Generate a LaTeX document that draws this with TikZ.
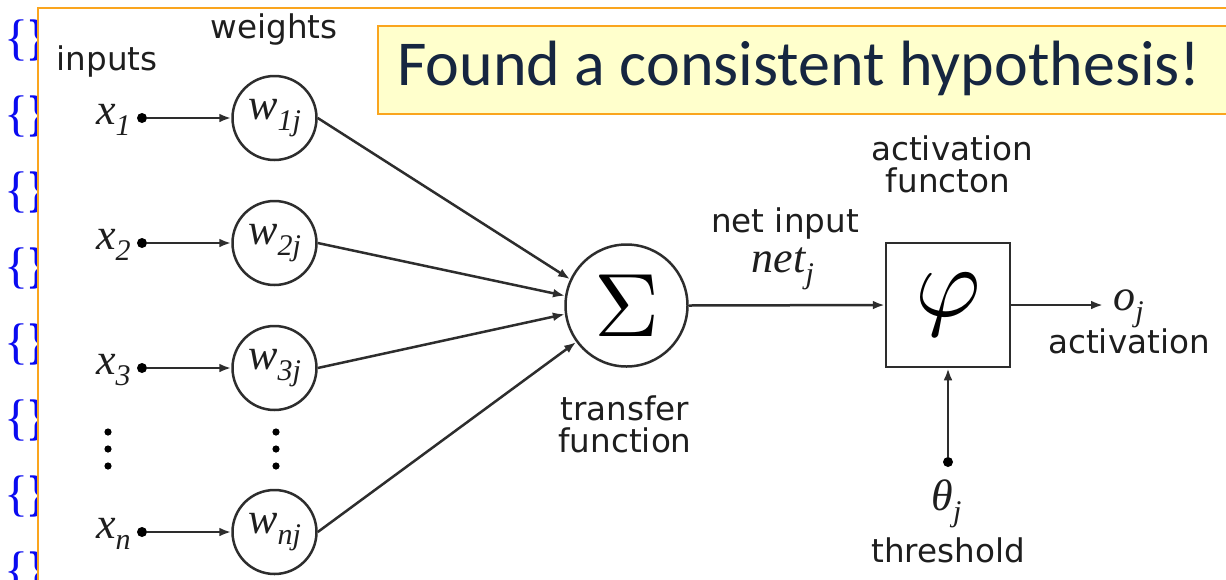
\documentclass[tikz,border=0pt]{standalone}
\usepackage{fontspec}
\setmainfont{DejaVu Sans}
\newfontfamily\calib{Carlito}
\newfontfamily\tim{Liberation Serif}
\usetikzlibrary{arrows.meta}
\definecolor{linec}{RGB}{45,45,45}
\definecolor{txt}{RGB}{30,30,30}
\definecolor{frameor}{RGB}{250,165,30}
\definecolor{notefill}{RGB}{255,255,204}
\definecolor{notetxt}{RGB}{22,38,64}
\definecolor{codeblue}{RGB}{10,10,240}
\newcommand\isub[1]{\raisebox{-0.55ex}{\fontsize{15pt}{15pt}\selectfont #1}}
\begin{document}
\begin{tikzpicture}[x=0.5pt,y=-0.5pt,
  wire/.style={draw=linec, line width=1.25pt},
  arr/.style={wire, -{Latex[length=6pt,width=4.4pt]}},
  lab/.style={font=\fontsize{16.3pt}{16pt}\selectfont, text=txt, inner sep=0pt},
  mth/.style={font=\tim\itshape\fontsize{22pt}{22pt}\selectfont, text=txt, inner sep=0pt},
  wcirc/.style={circle, draw=linec, line width=1.25pt, minimum size=42pt, inner sep=0pt,
                font=\tim\itshape\fontsize{22pt}{22pt}\selectfont, text=txt},
  ptdot/.style={circle, fill=black, minimum size=5pt, inner sep=0pt},
  vdot/.style={circle, fill=black, minimum size=3.6pt, inner sep=0pt},
  brace/.style={font=\tim\fontsize{25pt}{25pt}\selectfont, text=codeblue, inner sep=0pt, anchor=west},
  frame/.style={draw=frameor, line width=1.1pt},
]
\useasboundingbox (0,0) rectangle (1226,579);
\clip (0,0) rectangle (1226,579);

% column of code braces behind the figure
\foreach \k in {0,...,7}
  \node[brace] (br\k) at (4,{40+76*\k}) {\{\textbf{\}}};

% figure frame
\fill[white] (38,8) rectangle (1300,660);
\draw[frame] (38,8) rectangle (1300,660);

% note banner
\node[frame, fill=notefill, minimum width=450pt, minimum height=44pt, anchor=north west,
      inner sep=0pt] (note) at (377,25) {};
\node[font=\calib\fontsize{32pt}{32pt}\selectfont, text=notetxt, anchor=west, inner sep=0pt]
      (notetext) at (397,68) {Found a consistent hypothesis!};

% headings
\node[lab] (inputs) at (107,62) {inputs};
\node[lab] (weights) at (274,30) {weights};

% inputs, weights and their arrows
\foreach \i/\y/\s in {1/118/1,2/243/2,3/368/3,n/532/n}{
  \node[mth, anchor=base east] (x\i) at (131,{\y+6}) {x\isub{\s}};
  \node[ptdot] (d\i) at (142,\y) {};
  \node[wcirc] (w\i) at (274.5,\y) {w\isub{\s j}};
  \draw[arr] (d\i) -- (w\i.west);
}

% vertical ellipses
\foreach \y [count=\c] in {432,449,466}{
  \node[vdot] (ex\c) at (108,\y) {};
  \node[vdot] (ew\c) at (276,\y) {};
}

% summation unit
\node[circle, draw=linec, line width=1.25pt, minimum size=61pt, inner sep=0pt]
      (sum) at (626.5,305.5) {\scalebox{4.5}{$\Sigma$}};
\draw[arr] (w1.east) -- (sum.155);
\draw[arr] (w2.east) -- (sum.171);
\draw[arr] (w3.east) -- (sum.188);
\draw[arr] (wn.east) -- (sum.216);

\node[lab, anchor=base] (tf1) at (625,420) {transfer};
\node[lab, anchor=base] (tf2) at (625,452) {function};

% activation unit
\node[draw=linec, line width=1.25pt, minimum size=62pt, inner sep=0pt]
      (phi) at (948,305) {\scalebox{5}{$\varphi$}};
\draw[arr] (sum.east) -- (phi.west);

\node[lab, anchor=base] (ni) at (785,232) {net input};
\node[mth, anchor=base] (net) at (783,272) {net\isub{j}};
\node[lab, anchor=base] (af1) at (952,160) {activation};
\node[lab, anchor=base] (af2) at (948,192) {functon};

% output
\coordinate (outend) at (1103,305);
\draw[arr] (phi.east) -- (outend);
\node[mth, anchor=base west] (oj) at (1113,310) {o\isub{j}};
\node[lab, anchor=base] (act) at (1129,353) {activation};

% threshold
\node[ptdot] (th) at (948,462) {};
\draw[arr] (th) -- (phi.south);
\node[mth, anchor=base west] (theta) at (931,510) {θ\isub{j}};
\node[lab, anchor=base] (thr) at (948,562) {threshold};
\end{tikzpicture}
\end{document}
